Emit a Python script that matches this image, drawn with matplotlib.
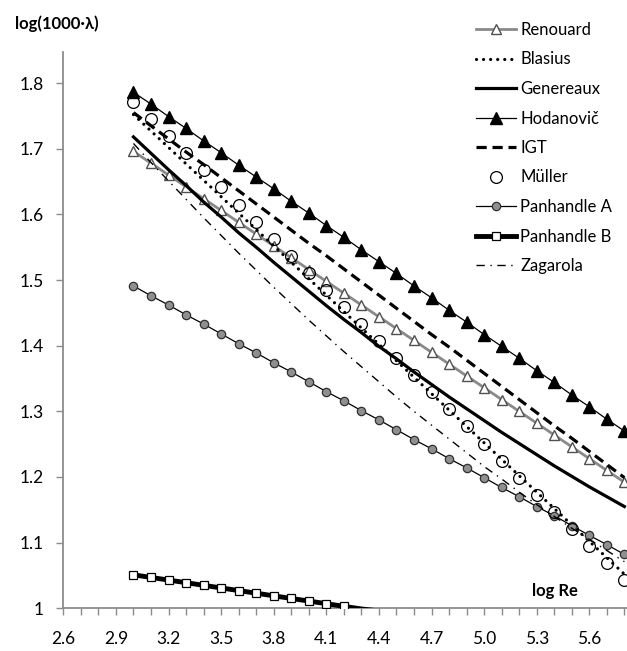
import numpy as np
import matplotlib
matplotlib.use("Agg")
import matplotlib.pyplot as plt
from matplotlib.ticker import FixedLocator

plt.rcParams["font.family"] = ["Lato", "DejaVu Sans"]

log_re = [3.0, 3.1, 3.2, 3.3, 3.4, 3.5, 3.6, 3.7, 3.8, 3.9, 4.0, 4.1, 4.2, 4.3, 4.4,
          4.5, 4.6, 4.7, 4.8, 4.9, 5.0, 5.1, 5.2, 5.3, 5.4, 5.5, 5.6, 5.7, 5.8]

renouard = [1.696, 1.678, 1.660, 1.642, 1.624, 1.606, 1.588, 1.570, 1.552, 1.534,
            1.516, 1.498, 1.480, 1.462, 1.444, 1.426, 1.408, 1.390, 1.372, 1.354,
            1.336, 1.318, 1.300, 1.282, 1.264, 1.246, 1.228, 1.210, 1.192]
blasius = [1.752, 1.727, 1.702, 1.677, 1.652, 1.627, 1.602, 1.577, 1.552, 1.527,
           1.502, 1.477, 1.452, 1.427, 1.402, 1.377, 1.352, 1.327, 1.302, 1.277,
           1.252, 1.227, 1.202, 1.177, 1.152, 1.127, 1.102, 1.077, 1.052]
genereaux = [1.718, 1.693, 1.668, 1.644, 1.619, 1.596, 1.572, 1.550, 1.527, 1.505,
             1.483, 1.461, 1.440, 1.420, 1.399, 1.380, 1.360, 1.341, 1.322, 1.304,
             1.286, 1.268, 1.251, 1.234, 1.217, 1.201, 1.185, 1.170, 1.155]
hodanovic = [1.786, 1.768, 1.749, 1.731, 1.712, 1.694, 1.675, 1.657, 1.639, 1.620,
             1.602, 1.583, 1.565, 1.546, 1.528, 1.510, 1.491, 1.473, 1.454, 1.436,
             1.417, 1.399, 1.381, 1.362, 1.344, 1.325, 1.307, 1.288, 1.270]
igt = [1.755, 1.735, 1.715, 1.695, 1.676, 1.656, 1.636, 1.616, 1.596, 1.576,
       1.556, 1.537, 1.517, 1.497, 1.477, 1.457, 1.437, 1.417, 1.398, 1.378,
       1.358, 1.338, 1.318, 1.298, 1.278, 1.259, 1.239, 1.219, 1.199]
muller = [1.771, 1.745, 1.719, 1.693, 1.667, 1.641, 1.615, 1.589, 1.563, 1.537,
          1.511, 1.485, 1.459, 1.433, 1.407, 1.381, 1.355, 1.329, 1.303, 1.277,
          1.251, 1.225, 1.199, 1.173, 1.147, 1.121, 1.095, 1.069, 1.043]
panhandle_a = [1.491, 1.476, 1.462, 1.447, 1.433, 1.418, 1.403, 1.389, 1.374, 1.360,
               1.345, 1.330, 1.316, 1.301, 1.287, 1.272, 1.257, 1.243, 1.228, 1.214,
               1.199, 1.184, 1.170, 1.155, 1.141, 1.126, 1.111, 1.097, 1.082]
panhandle_b = [1.051, 1.047, 1.043, 1.039, 1.035, 1.031, 1.027, 1.023, 1.019, 1.015,
               1.011, 1.007, 1.003, 0.999, 0.996, 0.992, 0.988, 0.984, 0.980, 0.976,
               0.972, 0.968, 0.964, 0.960, 0.956, 0.952, 0.948, 0.944, 0.940]
zagarola = [1.708, 1.679, 1.651, 1.623, 1.595, 1.568, 1.541, 1.515, 1.489, 1.464,
            1.439, 1.415, 1.391, 1.368, 1.345, 1.322, 1.300, 1.279, 1.258, 1.237,
            1.216, 1.197, 1.177, 1.158, 1.140, 1.122, 1.105, 1.088, 1.071]

x_ticks = [2.6, 2.9, 3.2, 3.5, 3.8, 4.1, 4.4, 4.7, 5.0, 5.3, 5.6]
x_minor = [2.6, 2.7, 2.8, 2.9, 3.0, 3.1, 3.2, 3.3, 3.4, 3.5, 3.6, 3.7, 3.8, 3.9, 4.0,
           4.1, 4.2, 4.3, 4.4, 4.5, 4.6, 4.7, 4.8, 4.9, 5.0, 5.1, 5.2, 5.3, 5.4, 5.5,
           5.6, 5.7, 5.8]
y_ticks = [1.0, 1.1, 1.2, 1.3, 1.4, 1.5, 1.6, 1.7, 1.8]
y_labels = ["1", "1.1", "1.2", "1.3", "1.4", "1.5", "1.6", "1.7", "1.8"]

AXIS_GREY = "#8c8c8c"
YMIN = 1.0

fig = plt.figure(figsize=(6.27, 6.51), dpi=100)
ax = fig.add_axes([0.101, 0.0656, 0.899, 0.8552])

ax.plot(log_re, renouard, color="#8a8a8a", lw=2.0, marker="^", ms=7.5,
        mfc="white", mec="#505050", mew=1.0, label="Renouard", zorder=3)
ax.plot(log_re, blasius, color="black", lw=2.3, ls=(0, (0.01, 2.2)),
        dash_capstyle="round", label="Blasius", zorder=3)
ax.plot(log_re, genereaux, color="black", lw=2.3, label="Genereaux", zorder=3)
ax.plot(log_re, hodanovic, color="black", lw=0.9, marker="^", ms=8.5,
        mfc="black", mec="black", label="Hodanovič", zorder=3)
ax.plot(log_re, igt, color="black", lw=2.3, ls=(0, (3.2, 1.8)), label="IGT", zorder=3)
ax.plot(log_re, muller, ls="none", marker="o", ms=8.5, mfc="none",
        mec="black", mew=0.9, label="Müller", zorder=4)
ax.plot(log_re, panhandle_a, color="black", lw=0.9, marker="o", ms=6,
        mfc="#8f8f8f", mec="#303030", mew=0.9, label="Panhandle A", zorder=3)

# Panhandle B dips below the axis floor: line gets clipped, markers only where visible
pb = np.array(panhandle_b)
ax.plot(log_re, pb, color="black", lw=3.5, zorder=3)
ax.plot(log_re, np.where(pb >= YMIN, pb, np.nan), ls="none", marker="s", ms=6,
        mfc="white", mec="black", mew=0.9, zorder=3)
ax.plot([], [], color="black", lw=3.5, marker="s", ms=6,
        mfc="white", mec="black", mew=0.9, label="Panhandle B")

ax.plot(log_re, zagarola, color="black", lw=1.0, ls=(0, (6, 4, 1, 4)),
        label="Zagarola", zorder=3)

ax.set_xlim(2.6, 5.815)
ax.set_ylim(YMIN, 1.848)

ax.xaxis.set_major_locator(FixedLocator(x_ticks))
ax.xaxis.set_minor_locator(FixedLocator(x_minor))
ax.set_xticklabels([f"{v:.1f}" for v in x_ticks])
ax.yaxis.set_major_locator(FixedLocator(y_ticks))
ax.set_yticklabels(y_labels)

for side in ["top", "right"]:
    ax.spines[side].set_visible(False)
for side in ["left", "bottom"]:
    ax.spines[side].set_color(AXIS_GREY)
    ax.spines[side].set_linewidth(1.3)

ax.tick_params(axis="x", which="both", direction="out", length=5, width=1,
               color=AXIS_GREY, labelsize=12.5, pad=11)
ax.tick_params(axis="y", which="major", direction="out", length=5, width=1,
               color=AXIS_GREY, labelsize=12.5, pad=9)

fig.text(15 / 627, 1 - 24 / 651, "log(1000·λ)", fontsize=12, fontweight="bold",
         ha="left", va="center")
fig.text(555 / 627, 1 - 591 / 651, "log Re", fontsize=12, fontweight="bold",
         ha="center", va="center")

fig.legend(loc="upper left", bbox_to_anchor=(476 / 627, 1 - 22 / 651),
           frameon=False, fontsize=12, handlelength=2.4, handletextpad=0.25,
           labelspacing=0.81, borderpad=0, borderaxespad=0)

fig.savefig("out.png", dpi=100)
